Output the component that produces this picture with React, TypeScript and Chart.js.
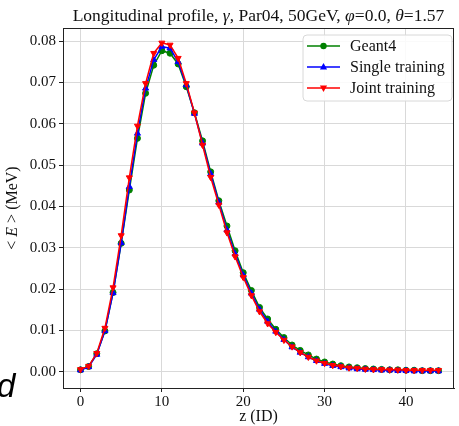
import React, { useEffect, useRef } from "react";
import { Chart, registerables } from "chart.js";

Chart.register(...registerables);

const zIndex = [
  0, 1, 2, 3, 4, 5, 6, 7, 8, 9, 10, 11, 12, 13, 14, 15, 16, 17, 18, 19, 20, 21,
  22, 23, 24, 25, 26, 27, 28, 29, 30, 31, 32, 33, 34, 35, 36, 37, 38, 39, 40, 41,
  42, 43, 44,
];

const geant4 = [
  0.0005, 0.0013, 0.0044, 0.0099, 0.0192, 0.0311, 0.044, 0.0565, 0.0674, 0.0742,
  0.0777, 0.0771, 0.0745, 0.069, 0.0627, 0.0559, 0.0484, 0.0414, 0.0353, 0.0293,
  0.024, 0.0197, 0.0156, 0.0128, 0.0103, 0.0083, 0.0065, 0.0052, 0.0041, 0.0031,
  0.0024, 0.0019, 0.0015, 0.0012, 0.001, 0.0008, 0.0007, 0.0006, 0.0005, 0.0005,
  0.0004, 0.0004, 0.0003, 0.0003, 0.0003,
];

const singleTraining = [
  0.0004, 0.0012, 0.0042, 0.0099, 0.0191, 0.0312, 0.0448, 0.0577, 0.0686, 0.0755,
  0.0787, 0.0783, 0.075, 0.0694, 0.0625, 0.0553, 0.0479, 0.041, 0.0343, 0.0285,
  0.0234, 0.019, 0.0151, 0.0122, 0.0098, 0.0078, 0.006, 0.0047, 0.0036, 0.0027,
  0.002, 0.0015, 0.0012, 0.0009, 0.0007, 0.0006, 0.0005, 0.0004, 0.0004, 0.0003,
  0.0003, 0.0002, 0.0002, 0.0002, 0.0002,
];

const jointTraining = [
  0.0006, 0.0014, 0.0045, 0.0106, 0.0204, 0.033, 0.047, 0.0595, 0.0698, 0.0771,
  0.0796, 0.0791, 0.0759, 0.0698, 0.0627, 0.0549, 0.0471, 0.0404, 0.0337, 0.0279,
  0.0229, 0.0185, 0.0146, 0.0117, 0.0096, 0.0077, 0.0061, 0.0047, 0.0036, 0.0027,
  0.0021, 0.0016, 0.0013, 0.001, 0.0009, 0.0007, 0.0006, 0.0006, 0.0005, 0.0005,
  0.0004, 0.0004, 0.0004, 0.0004, 0.0004,
];

const xTicks = [0, 10, 20, 30, 40];
const yTicks = [0, 0.01, 0.02, 0.03, 0.04, 0.05, 0.06, 0.07, 0.08];

const seriesNames = ["Geant4", "Single training", "Joint training"];
const seriesColors = ["#008000", "#0000ff", "#ff0000"];

const SERIF = '"Liberation Serif", "DejaVu Serif", serif';

type Seg = { t: string; i?: boolean };

function drawSegs(
  ctx: CanvasRenderingContext2D,
  segs: Seg[],
  cx: number,
  y: number,
  size: number
) {
  const fontFor = (s: Seg) => `${s.i ? "italic " : ""}${size}px ${SERIF}`;
  let total = 0;
  for (const s of segs) {
    ctx.font = fontFor(s);
    total += ctx.measureText(s.t).width;
  }
  let x = cx - total / 2;
  ctx.textAlign = "left";
  for (const s of segs) {
    ctx.font = fontFor(s);
    ctx.fillText(s.t, x, y);
    x += ctx.measureText(s.t).width;
  }
}

function drawMarker(
  ctx: CanvasRenderingContext2D,
  kind: number,
  x: number,
  y: number,
  color: string
) {
  ctx.fillStyle = color;
  ctx.beginPath();
  if (kind === 0) {
    ctx.arc(x, y, 3.2, 0, Math.PI * 2);
  } else if (kind === 1) {
    ctx.moveTo(x, y - 4);
    ctx.lineTo(x + 3.6, y + 2.6);
    ctx.lineTo(x - 3.6, y + 2.6);
    ctx.closePath();
  } else {
    ctx.moveTo(x, y + 4);
    ctx.lineTo(x + 3.6, y - 2.6);
    ctx.lineTo(x - 3.6, y - 2.6);
    ctx.closePath();
  }
  ctx.fill();
}

const decorPlugin = {
  id: "decor",
  afterDraw(chart: any) {
    const ctx: CanvasRenderingContext2D = chart.ctx;
    const a = chart.chartArea;
    ctx.save();
    // top and right spines
    ctx.strokeStyle = "#222";
    ctx.lineWidth = 1;
    ctx.beginPath();
    ctx.moveTo(a.left, a.top + 0.5);
    ctx.lineTo(a.right, a.top + 0.5);
    ctx.moveTo(a.right - 0.5, a.top);
    ctx.lineTo(a.right - 0.5, a.bottom);
    ctx.stroke();

    ctx.fillStyle = "#111";
    ctx.textBaseline = "alphabetic";
    // title
    drawSegs(
      ctx,
      [
        { t: "Longitudinal profile, " },
        { t: "γ", i: true },
        { t: ", Par04, 50GeV, " },
        { t: "φ", i: true },
        { t: "=0.0, " },
        { t: "θ", i: true },
        { t: "=1.57" },
      ],
      (a.left + a.right) / 2,
      21,
      17.5
    );
    // x title
    drawSegs(ctx, [{ t: "z (ID)" }], (a.left + a.right) / 2, 421, 16);
    // y title
    ctx.save();
    ctx.translate(17, (a.top + a.bottom) / 2);
    ctx.rotate(-Math.PI / 2);
    drawSegs(
      ctx,
      [{ t: "< " }, { t: "E", i: true }, { t: " > (MeV)" }],
      0,
      0,
      16
    );
    ctx.restore();

    // legend
    const bx = 303,
      by = 35,
      bw = 149,
      bh = 66,
      r = 4;
    ctx.beginPath();
    ctx.moveTo(bx + r, by);
    ctx.arcTo(bx + bw, by, bx + bw, by + bh, r);
    ctx.arcTo(bx + bw, by + bh, bx, by + bh, r);
    ctx.arcTo(bx, by + bh, bx, by, r);
    ctx.arcTo(bx, by, bx + bw, by, r);
    ctx.closePath();
    ctx.fillStyle = "rgba(255,255,255,0.85)";
    ctx.fill();
    ctx.strokeStyle = "#d8d8d8";
    ctx.lineWidth = 1;
    ctx.stroke();

    const rows = [46, 67, 88];
    seriesNames.forEach((name, k) => {
      const yy = rows[k];
      ctx.strokeStyle = seriesColors[k];
      ctx.lineWidth = 1.5;
      ctx.beginPath();
      ctx.moveTo(307, yy);
      ctx.lineTo(340, yy);
      ctx.stroke();
      drawMarker(ctx, k, 323.5, yy, seriesColors[k]);
      ctx.fillStyle = "#111";
      ctx.font = `16px ${SERIF}`;
      ctx.textAlign = "left";
      ctx.textBaseline = "middle";
      ctx.fillText(name, 350, yy + 1);
    });
    ctx.restore();
  },
};

function toPoints(values: number[]) {
  return zIndex.map((z, k) => ({ x: z, y: values[k] }));
}

export default function App() {
  const ref = useRef<HTMLCanvasElement | null>(null);

  useEffect(() => {
    if (!ref.current) return;
    const series = [geant4, singleTraining, jointTraining];
    const styles = ["circle", "triangle", "triangle"];
    const chart = new Chart(ref.current, {
      type: "line",
      data: {
        datasets: series.map((vals, k) => ({
          label: seriesNames[k],
          data: toPoints(vals),
          borderColor: seriesColors[k],
          backgroundColor: seriesColors[k],
          pointBackgroundColor: seriesColors[k],
          pointBorderColor: seriesColors[k],
          pointStyle: styles[k] as any,
          pointRotation: k === 2 ? 180 : 0,
          pointRadius: k === 0 ? 3 : 3.5,
          pointBorderWidth: 1,
          borderWidth: 1.5,
          tension: 0,
          order: 2 - k,
        })),
      },
      options: {
        animation: false,
        responsive: false,
        maintainAspectRatio: false,
        layout: { padding: { top: 28, right: 2, left: 0, bottom: 0 } },
        plugins: {
          legend: { display: false },
          title: { display: false },
          tooltip: { enabled: false },
        },
        scales: {
          x: {
            type: "linear",
            min: -2.15,
            max: 45.9,
            afterFit: (s: any) => {
              s.height = 38;
            },
            afterBuildTicks: (s: any) => {
              s.ticks = xTicks.map((v) => ({ value: v }));
            },
            grid: {
              color: "#d9d9d9",
              tickColor: "#222",
              tickLength: 4,
              lineWidth: 1,
            },
            border: { color: "#222", width: 1 },
            ticks: {
              color: "#111",
              font: { family: SERIF, size: 15 },
              padding: 1,
              maxRotation: 0,
              autoSkip: false,
              callback: (v: any) => String(v),
            },
          },
          y: {
            type: "linear",
            min: -0.0039,
            max: 0.0832,
            afterFit: (s: any) => {
              s.width = 63;
            },
            afterBuildTicks: (s: any) => {
              s.ticks = yTicks.map((v) => ({ value: v }));
            },
            grid: {
              color: "#d9d9d9",
              tickColor: "#222",
              tickLength: 4,
              lineWidth: 1,
            },
            border: { color: "#222", width: 1 },
            ticks: {
              color: "#111",
              font: { family: SERIF, size: 15 },
              padding: 3,
              autoSkip: false,
              callback: (v: any) => Number(v).toFixed(2),
            },
          },
        },
      },
      plugins: [decorPlugin],
    });
    return () => chart.destroy();
  }, []);

  return (
    <div
      style={{
        position: "absolute",
        left: 0,
        top: 0,
        width: 459,
        height: 426,
        overflow: "hidden",
        background: "#fff",
      }}
    >
      <canvas ref={ref} width={459} height={426} style={{ display: "block" }} />
      <span
        style={{
          position: "absolute",
          left: -3,
          top: 369,
          fontFamily: '"Liberation Sans", Arial, sans-serif',
          fontStyle: "italic",
          fontSize: 33,
          lineHeight: "33px",
          color: "#000",
        }}
      >
        d
      </span>
    </div>
  );
}
